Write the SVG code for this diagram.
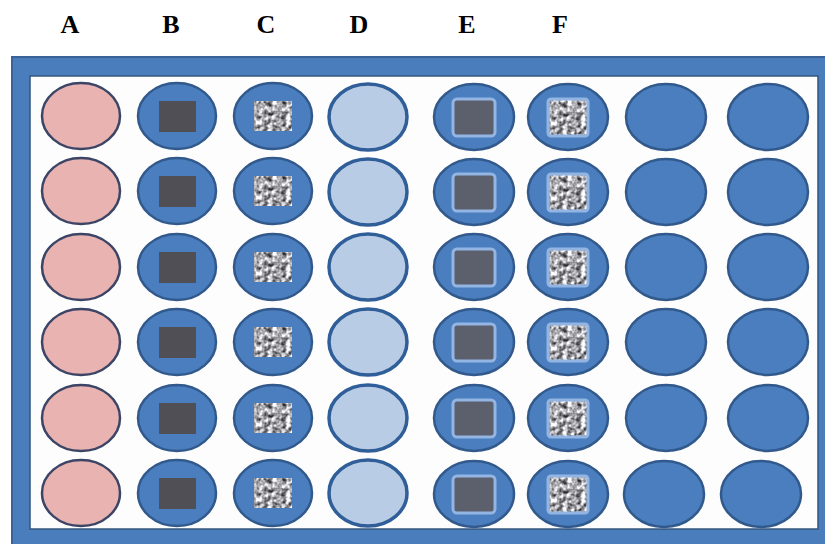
<svg xmlns="http://www.w3.org/2000/svg" width="825" height="544" viewBox="0 0 825 544">
<style>
.lbl{font-family:"Liberation Serif","Times New Roman",serif;font-weight:bold;font-size:26px;fill:#000;text-anchor:middle}
.pink{fill:#e8b3b1;stroke:#3c4566;stroke-width:2.5}
.blue{fill:#4a7ebe;stroke:#32598c;stroke-width:2.5}
.light{fill:#b9cce5;stroke:#2f5e98;stroke-width:3.5}
.sq{fill:#4f4f55}
.sqE{fill:#5c5f6c;stroke:#93b5e3;stroke-width:3}
.tex{fill:#999;filter:url(#noise)}
.texF{stroke:#93b5e3;stroke-width:3;fill:none}
</style>
<defs>
<filter id="noise" x="0" y="0" width="100%" height="100%" filterUnits="objectBoundingBox" color-interpolation-filters="sRGB">
<feTurbulence type="fractalNoise" baseFrequency="0.22" numOctaves="2" seed="4" result="t"/>
<feColorMatrix in="t" type="matrix" values="1.7 0 0 0 -0.2  1.7 0 0 0 -0.2  1.7 0 0 0 -0.18  0 0 0 0 1"/>
</filter>
<g id="wA"><ellipse class="pink" cx="0" cy="0" rx="39" ry="33"/></g>
<g id="wB"><ellipse class="blue" cx="0" cy="0" rx="39" ry="33"/><rect class="sq" x="-18" y="-15" width="37" height="31"/></g>
<g id="wC"><ellipse class="blue" cx="0" cy="0" rx="39" ry="33"/><rect class="tex" x="-19" y="-15" width="38" height="30"/></g>
<g id="wD"><ellipse class="light" cx="0" cy="0" rx="39" ry="33"/></g>
<g id="wE"><ellipse class="blue" cx="0" cy="0" rx="40" ry="33"/><rect class="sqE" x="-21" y="-18" width="42" height="37" rx="4"/></g>
<g id="wF"><ellipse class="blue" cx="0" cy="0" rx="40" ry="33"/><rect class="tex" x="-20" y="-18" width="40" height="37"/><rect class="texF" x="-20" y="-18" width="40" height="37" rx="3"/></g>
<g id="wG"><ellipse class="blue" cx="0" cy="0" rx="40" ry="33"/></g>
</defs>

<g id="labels">
<text class="lbl" x="70" y="33">A</text>
<text class="lbl" x="171" y="33">B</text>
<text class="lbl" x="266" y="33">C</text>
<text class="lbl" x="359" y="33">D</text>
<text class="lbl" x="467" y="33">E</text>
<text class="lbl" x="560" y="33">F</text>
</g>

<g id="plate">
<rect x="12" y="57" width="820" height="494" fill="#4a7dbb" stroke="#3a6299" stroke-width="2"/>
<rect x="30" y="76" width="788" height="453" fill="#fdfdfd" stroke="#35557f" stroke-width="1.5"/>
</g>

<g id="connectors"></g>

<g id="colA">
<use href="#wA" x="81" y="116"/><use href="#wA" x="81" y="191"/><use href="#wA" x="81" y="267"/><use href="#wA" x="81" y="342"/><use href="#wA" x="81" y="418"/><use href="#wA" x="81" y="493"/>
</g>
<g id="colB">
<use href="#wB" x="177" y="116"/><use href="#wB" x="177" y="191"/><use href="#wB" x="177" y="267"/><use href="#wB" x="177" y="342"/><use href="#wB" x="177" y="418"/><use href="#wB" x="177" y="493"/>
</g>
<g id="colC">
<use href="#wC" x="273" y="116"/><use href="#wC" x="273" y="191"/><use href="#wC" x="273" y="267"/><use href="#wC" x="273" y="342"/><use href="#wC" x="273" y="418"/><use href="#wC" x="273" y="493"/>
</g>
<g id="colD">
<use href="#wD" x="368" y="117"/><use href="#wD" x="368" y="192"/><use href="#wD" x="368" y="267"/><use href="#wD" x="368" y="342"/><use href="#wD" x="368" y="418"/><use href="#wD" x="368" y="493"/>
</g>
<g id="colE">
<use href="#wE" x="474" y="117"/><use href="#wE" x="474" y="192"/><use href="#wE" x="474" y="267"/><use href="#wE" x="474" y="342"/><use href="#wE" x="474" y="418"/><use href="#wE" x="474" y="494"/>
</g>
<g id="colF">
<use href="#wF" x="568" y="117"/><use href="#wF" x="568" y="192"/><use href="#wF" x="568" y="267"/><use href="#wF" x="568" y="342"/><use href="#wF" x="568" y="418"/><use href="#wF" x="568" y="494"/>
</g>
<g id="colG">
<use href="#wG" x="666" y="117"/><use href="#wG" x="666" y="192"/><use href="#wG" x="666" y="267"/><use href="#wG" x="666" y="342"/><use href="#wG" x="666" y="418"/><use href="#wG" x="664" y="494"/>
</g>
<g id="colH">
<use href="#wG" x="768" y="117"/><use href="#wG" x="768" y="192"/><use href="#wG" x="768" y="267"/><use href="#wG" x="768" y="342"/><use href="#wG" x="768" y="418"/><use href="#wG" x="761" y="494"/>
</g>
</svg>
